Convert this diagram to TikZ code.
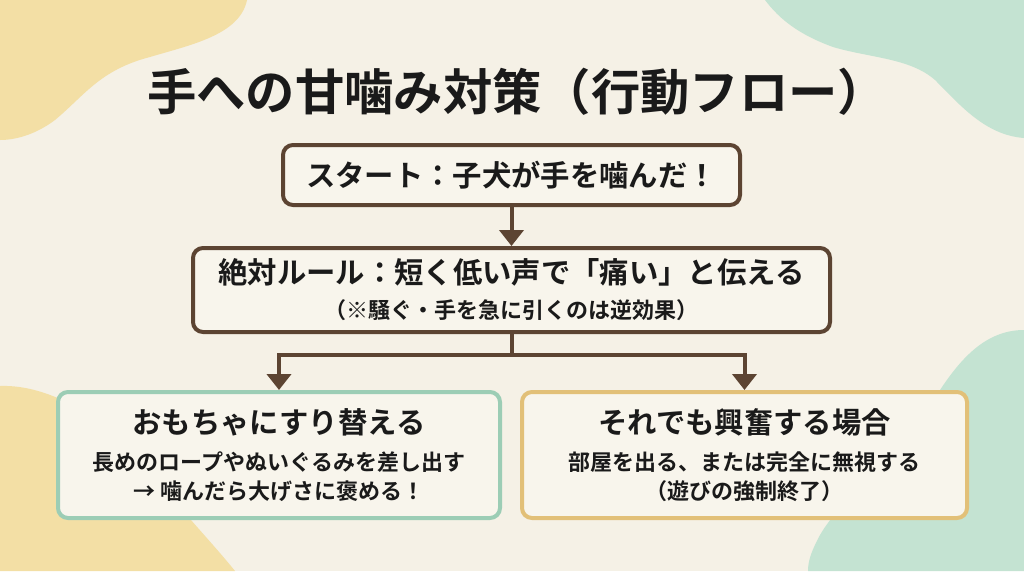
\documentclass[tikz,border=0pt]{standalone}
\usepackage{fontspec}
\setmainfont{Noto Sans CJK JP}[BoldFont={* Bold}]
\usetikzlibrary{arrows.meta}
\definecolor{paper}{HTML}{F5F1E6}
\definecolor{blobyellow}{HTML}{F3DFA5}
\definecolor{blobmint}{HTML}{C4E3D2}
\definecolor{flowbrown}{HTML}{5C4432}
\definecolor{boxfill}{HTML}{F8F5EC}
\definecolor{edgemint}{HTML}{9CCDB5}
\definecolor{edgegold}{HTML}{E2C078}
\definecolor{ink}{HTML}{1A1A1A}
\newcommand\headsize{\fontsize{22}{26}\selectfont}
\newcommand\bodysize{\fontsize{16.5}{20}\selectfont}
\begin{document}
\begin{tikzpicture}[x=0.75pt,y=-0.75pt,
  box/.style={draw=flowbrown,line width=3pt,rounded corners=7.5pt,fill=boxfill,
    align=center,inner sep=0pt,text=ink,font=\bfseries},
  flow/.style={draw=flowbrown,line width=3pt},
  tip/.style={flow,-{Triangle[width=18pt,length=12pt]}}]
 % background and corner blobs
 \fill[paper](0,0) rectangle (1024,571);
 \useasboundingbox (0,0) rectangle (1024,571);
 \fill[blobyellow](0,0)--(247,0) .. controls (240,35) and (190,45) .. (150,57) .. controls (100,70) and (85,95) .. (55,120) .. controls (35,135) and (15,140) .. (0,140)--cycle;
 \fill[blobmint](765,0) .. controls (780,20) and (800,35) .. (833,47) .. controls (870,58) and (910,58) .. (935,80) .. controls (960,105) and (985,135) .. (1024,138)--(1024,0)--cycle;
 \fill[blobyellow](0,386) .. controls (50,384) and (110,420) .. (150,470) .. controls (180,510) and (210,540) .. (235,571)--(0,571)--cycle;
 \fill[blobmint](1024,330) .. controls (985,330) and (960,360) .. (940,390) .. controls (900,450) and (840,500) .. (820,535) .. controls (812,550) and (808,560) .. (808,571)--(1024,571)--cycle;
 % title
 \node[text=ink,font=\fontsize{37}{42}\selectfont\bfseries] (title) at (517,92) {手への甘噛み対策（行動フロー）};
 % boxes
 \node[box,minimum width=342.75pt,minimum height=45pt] (start) at (511.5,175)
   {\headsize スタート：子犬が手を噛んだ！};
 \node[box,minimum width=477.75pt,minimum height=63pt] (rule) at (511.5,290)
   {\headsize 絶対ルール：短く低い声で「痛い」と伝える\\[9pt]
    \bodysize （※騒ぐ・手を急に引くのは逆効果）};
 \node[box,draw=edgemint,minimum width=331.5pt,minimum height=94.5pt] (toy) at (279,455)
   {\headsize おもちゃにすり替える\\[11pt]
    \bodysize 長めのロープやぬいぐるみを差し出す\\[5pt]
    \bodysize → 噛んだら大げさに褒める！};
 \node[box,draw=edgegold,minimum width=333.75pt,minimum height=94.5pt] (calm) at (744.5,455)
   {\headsize それでも興奮する場合\\[11pt]
    \bodysize 部屋を出る、または完全に無視する\\[5pt]
    \bodysize （遊びの強制終了）};
 % connectors
 \coordinate (split) at (511.5,355);
 \draw[tip](start.south)--(rule.north);
 \draw[flow](rule.south)--(split);
 \draw[tip](split)-|(toy.north);
 \draw[tip](split)-|(calm.north);
\end{tikzpicture}
\end{document}
